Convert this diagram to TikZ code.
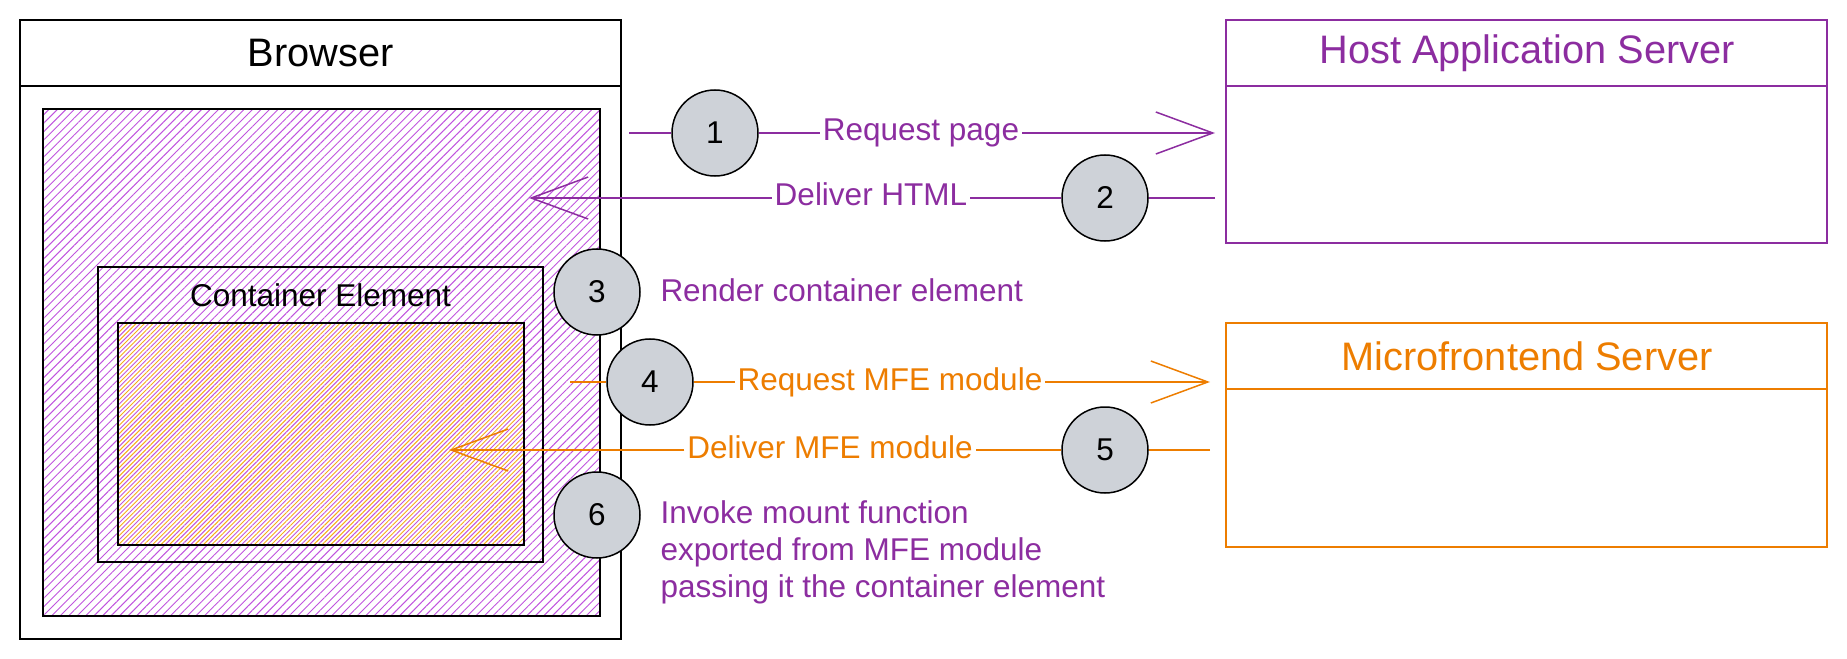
\documentclass[tikz,border=0pt]{standalone}
\usepackage{fontspec}
\setmainfont{Liberation Sans}
\usepackage{tikz}
\usetikzlibrary{arrows.meta,positioning,calc,patterns.meta}
\definecolor{hostpurple}{RGB}{140,45,160}
\definecolor{mfeorange}{RGB}{237,125,0}
\definecolor{hatchpurple}{RGB}{192,84,222}
\definecolor{hatchorange}{RGB}{246,174,24}
\definecolor{stepgray}{RGB}{206,210,216}

\begin{document}
\begin{tikzpicture}[
    x=0.4pt, y=-0.4pt,
    panel/.style={draw, rectangle, line width=0.6pt, inner sep=0pt},
    title/.style={font=\fontsize{15.9}{19}\selectfont},
    stepnum/.style={draw, circle, fill=stepgray, line width=0.6pt, minimum size=34.4pt, inner sep=0pt, font=\fontsize{12.6}{15}\selectfont},
    flowlabel/.style={fill=white, inner sep=1pt, text height=9pt, text depth=2.6pt, font=\fontsize{12.6}{15}\selectfont},
    note/.style={anchor=west, align=left, inner sep=0pt, text=hostpurple, font=\fontsize{12.6}{14.8}\selectfont},
    hostline/.style={draw=hostpurple, line width=0.6pt},
    mfeline/.style={draw=mfeorange, line width=0.6pt},
    barb/.style={-{Straight Barb[length=22.8pt, width=16.8pt]}}
]
    \useasboundingbox (0,0) rectangle (1847,659);

    % browser side
    \node[panel, minimum width=240.4pt, minimum height=247.6pt] (browser) at (320.5,329.5) {};
    \draw[line width=0.6pt] ($(browser.north west)+(0,67)$) -- ($(browser.north east)+(0,67)$);
    \node[title] (browsertitle) at (320.5,53) {Browser};
    \node[panel, minimum width=222.8pt, minimum height=202.8pt,
          pattern={Lines[angle=45,distance=2.4pt,line width=0.38pt]}, pattern color=hatchpurple] (page) at (321.5,362.5) {};
    \node[panel, minimum width=178pt, minimum height=118pt] (container) at (320.5,414.5) {};
    \node[title, font=\fontsize{12.6}{15}\selectfont] (containertitle) at (320.5,295) {Container Element};
    \node[panel, minimum width=162.4pt, minimum height=88.8pt,
          pattern={Lines[angle=45,distance=2.4pt,yshift=1.7pt,line width=0.38pt]}, pattern color=hatchorange] (mount) at (321,434) {};

    % servers
    \node[panel, draw=hostpurple, minimum width=240.4pt, minimum height=89.2pt] (host) at (1526.5,131.5) {};
    \draw[hostpurple, line width=0.6pt] ($(host.north west)+(0,67)$) -- ($(host.north east)+(0,67)$);
    \node[title, text=hostpurple] (hosttitle) at (1527,53) {Host Application Server};
    \node[panel, draw=mfeorange, minimum width=240.4pt, minimum height=89.6pt] (mfe) at (1526.5,435) {};
    \draw[mfeorange, line width=0.6pt] ($(mfe.north west)+(0,67)$) -- ($(mfe.north east)+(0,67)$);
    \node[title, text=mfeorange] (mfetitle) at (1527,356) {Microfrontend Server};

    % numbered steps
    \node[stepnum] (step1) at (715,133) {1};
    \node[stepnum] (step2) at (1105,198) {2};
    \node[stepnum] (step3) at (597,292) {3};
    \node[stepnum] (step4) at (650,382) {4};
    \node[stepnum] (step5) at (1105,450) {5};
    \node[stepnum] (step6) at (597,515) {6};

    \node[flowlabel, text=hostpurple] (reqpage) at (921,133) {Request page};
    \node[flowlabel, text=hostpurple] (delhtml) at (871,198) {Deliver HTML};
    \node[flowlabel, text=mfeorange] (reqmfe) at (890,382) {Request MFE module};
    \node[flowlabel, text=mfeorange] (delmfe) at (830,450) {Deliver MFE module};
    \node[note] (rendernote) at (660,290) {Render container element};
    \node[note] (mountnote) at (660,552) {Invoke mount function\\exported from MFE module\\passing it the container element};

    \coordinate (reqpagefrom) at (629,133);
    \coordinate (reqpageto) at (1215,133);
    \coordinate (delhtmlfrom) at (1215,198);
    \coordinate (delhtmlto) at (529,198);
    \coordinate (reqmfefrom) at (570,382);
    \coordinate (reqmfeto) at (1210,382);
    \coordinate (delmfefrom) at (1210,450);
    \coordinate (delmfeto) at (449,450);

    % arrows
    \draw[hostline] (reqpagefrom) -- (step1);
    \draw[hostline] (step1) -- (reqpage);
    \draw[hostline, barb] (reqpage) -- (reqpageto);
    \draw[hostline] (delhtmlfrom) -- (step2);
    \draw[hostline] (step2) -- (delhtml);
    \draw[hostline, barb] (delhtml) -- (delhtmlto);
    \draw[mfeline] (reqmfefrom) -- (step4);
    \draw[mfeline] (step4) -- (reqmfe);
    \draw[mfeline, barb] (reqmfe) -- (reqmfeto);
    \draw[mfeline] (delmfefrom) -- (step5);
    \draw[mfeline] (step5) -- (delmfe);
    \draw[mfeline, barb] (delmfe) -- (delmfeto);
\end{tikzpicture}
\end{document}
